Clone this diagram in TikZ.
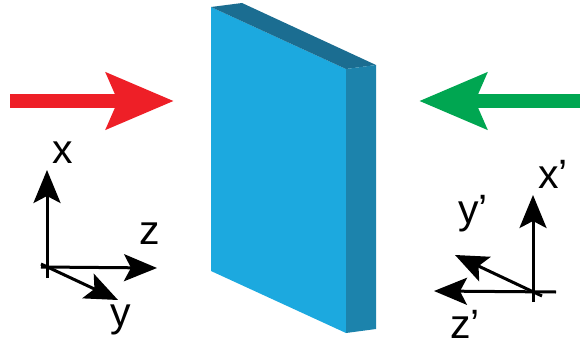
\documentclass[tikz,border=0pt]{standalone}
\usepackage{fontspec}
\setmainfont{Liberation Sans}
\usepackage{tikz}
\usetikzlibrary{arrows.meta}
\definecolor{slabfront}{HTML}{1CA9DF}
\definecolor{slabtop}{HTML}{1B6D91}
\definecolor{slabside}{HTML}{1C83AC}
\definecolor{beamred}{HTML}{EE1F27}
\definecolor{beamgreen}{HTML}{00A651}

\begin{document}
\begin{tikzpicture}[
  x=1pt,y=-1pt,
  beam/.style={-{Stealth[length=67pt,width=55pt,inset=11pt]}, line width=14pt},
  axis/.style={-{Stealth[length=33pt,width=27pt,inset=7pt]}, line width=3pt, draw=black},
  label/.style={font=\fontsize{41}{41}\selectfont, inner sep=0pt, anchor=base west}
]
  \useasboundingbox (0,0) rectangle (580,342);

  % slab
  \fill[slabfront] (211,7) -- (346,69) -- (346,333) -- (211,271) -- cycle;
  \fill[slabtop] (211,7) -- (242,3) -- (376,65) -- (346,69) -- cycle;
  \fill[slabside] (346,69) -- (376,65) -- (376,329) -- (346,333) -- cycle;

  % beams
  \coordinate (redtail) at (10,101);
  \coordinate (redtip) at (174,101);
  \coordinate (greentail) at (580,101);
  \coordinate (greentip) at (419,101);
  \draw[beam, draw=beamred, fill=beamred] (redtail) -- (redtip);
  \draw[beam, draw=beamgreen, fill=beamgreen] (greentail) -- (greentip);

  % left axes
  \coordinate (xstart) at (47,278);
  \coordinate (xend) at (47,170);
  \coordinate (zstart) at (41,267);
  \coordinate (zend) at (157,268);
  \coordinate (ystart) at (41,264);
  \coordinate (yend) at (118,300);
  \draw[axis] (xstart) -- (xend);
  \draw[axis] (zstart) -- (zend);
  \draw[axis] (ystart) -- (yend);
  \node[label] (xlabel) at (52,163) {x};
  \node[label] (zlabel) at (139,244) {z};
  \node[label] (ylabel) at (110,326) {y};

  % right axes
  \coordinate (xpstart) at (533,302);
  \coordinate (xpend) at (533,195);
  \coordinate (zpstart) at (556,292);
  \coordinate (zpend) at (434,291);
  \coordinate (ypstart) at (542,296);
  \coordinate (ypend) at (455,255);
  \draw[axis] (xpstart) -- (xpend);
  \draw[axis] (zpstart) -- (zpend);
  \draw[axis] (ypstart) -- (ypend);
  \node[label] (xplabel) at (538,188) {x’};
  \node[label] (yplabel) at (458,223) {y’};
  \node[label] (zplabel) at (450,338) {z’};
\end{tikzpicture}
\end{document}
